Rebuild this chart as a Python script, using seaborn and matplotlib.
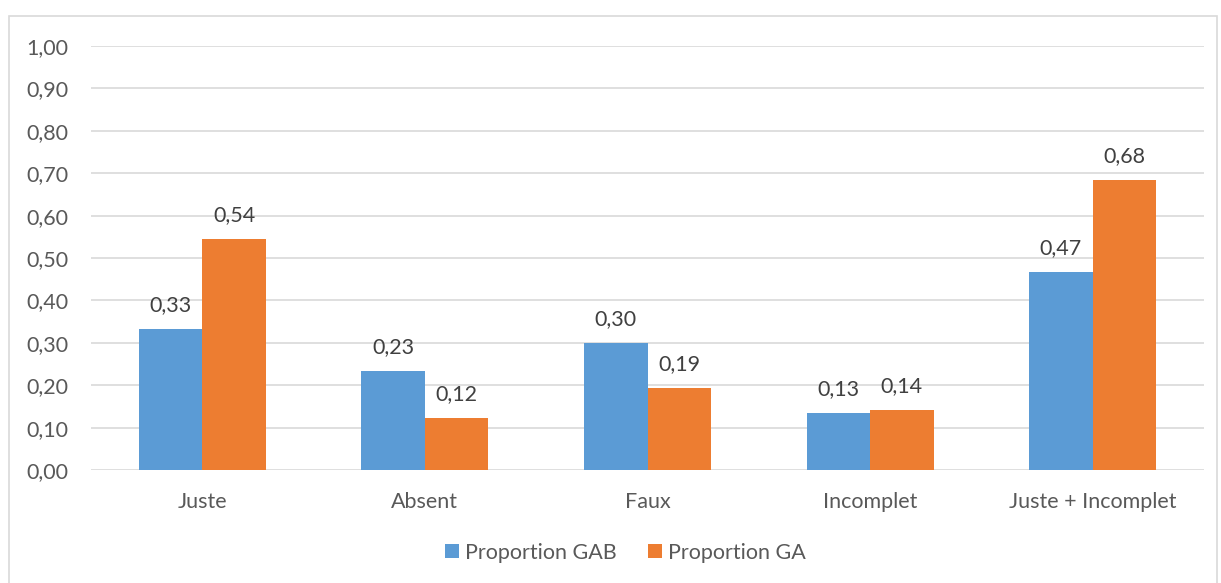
import numpy as np
import pandas as pd
import matplotlib
matplotlib.use("Agg")
import matplotlib.pyplot as plt
from matplotlib.patches import Rectangle
from matplotlib.lines import Line2D
import seaborn as sns

# data
categories = ["Juste", "Absent", "Faux", "Incomplet", "Juste + Incomplet"]
gab = [0.333, 0.233, 0.300, 0.134, 0.467]
ga = [0.544, 0.123, 0.193, 0.141, 0.684]
series = ["Proportion GAB", "Proportion GA"]
colors = ["#5B9BD5", "#ED7D31"]

df = pd.DataFrame({
    "cat": categories * 2,
    "val": gab + ga,
    "serie": [series[0]] * 5 + [series[1]] * 5,
})

sns.set_theme(style="white")
plt.rcParams["font.family"] = ["Lato", "DejaVu Sans"]
txt = "#595959"
fs = 15.5

fig = plt.figure(figsize=(12.21, 5.83), dpi=100)
ax = fig.add_axes([91 / 1221, 113 / 583, 1113 / 1221, 424 / 583])

sns.barplot(data=df, x="cat", y="val", hue="serie", palette=colors,
            width=0.57, gap=0, linewidth=0, saturation=1, ax=ax, legend=False)

for cont in ax.containers:
    ax.bar_label(cont, labels=[f"{b.get_height():.2f}".replace(".", ",") for b in cont],
                 padding=10, fontsize=fs, color="#404040")

ax.set_ylim(0, 1)
ax.set_xlim(-0.5, 4.5)
yt = np.arange(0, 1.01, 0.1)
ax.set_yticks(yt)
ax.set_yticklabels([f"{v:.2f}".replace(".", ",") for v in yt])
ax.yaxis.grid(True, color="#d9d9d9", linewidth=1.2)
ax.set_axisbelow(True)
for s in ax.spines.values():
    s.set_visible(False)
ax.tick_params(axis="y", length=0, pad=16, labelsize=fs, labelcolor=txt)
ax.tick_params(axis="x", length=0, pad=16, labelsize=fs, labelcolor=txt)
ax.set_xlabel("")
ax.set_ylabel("")

handles = [Line2D([], [], marker="s", linestyle="", markersize=10.5,
                  markerfacecolor=c, markeredgewidth=0) for c in colors]
fig.legend(handles, series, loc="center", bbox_to_anchor=(0.5 + 13 / 1221, 30 / 583), ncol=2,
           frameon=False, fontsize=fs, labelcolor=txt, handletextpad=0.1,
           columnspacing=1.3, handlelength=1.0)

fig.add_artist(Rectangle((9 / 1221, -0.02), 1208 / 1221, 1 - 16 / 583 + 0.02,
                         transform=fig.transFigure, fill=False,
                         edgecolor="#d9d9d9", linewidth=1.2))

fig.savefig("out.png", dpi=100)
